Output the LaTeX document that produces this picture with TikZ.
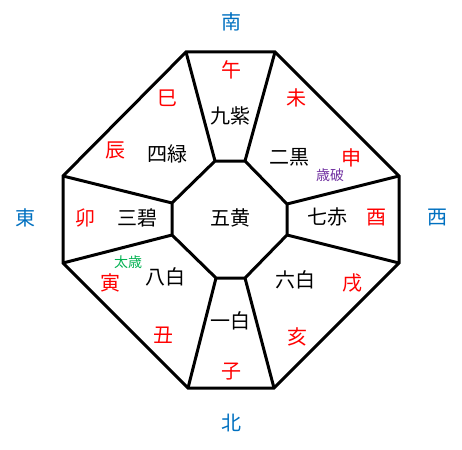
\documentclass[tikz,border=0pt]{standalone}
\usepackage{fontspec}
\newfontfamily\cjk{Noto Sans CJK JP}
\definecolor{dirblue}{RGB}{0,112,192}
\definecolor{zred}{RGB}{255,0,0}
\definecolor{tgreen}{RGB}{0,176,80}
\definecolor{spurple}{RGB}{112,48,160}
\tikzset{
  lab/.style={font=\cjk\fontsize{20}{20}\selectfont, inner sep=0pt},
  dir/.style={lab, text=dirblue},
  zodiac/.style={lab, text=zred},
  star/.style={lab, text=black},
  small/.style={font=\cjk\fontsize{14}{14}\selectfont, inner sep=0pt},
  edge/.style={line width=3pt, line join=miter, black}
}
\begin{document}
\begin{tikzpicture}[x=1pt,y=-1pt]
\useasboundingbox (0,0) rectangle (462,449);
% outer vertices
\coordinate (o1) at (186,52);
\coordinate (o2) at (275,52);
\coordinate (o3) at (399,176);
\coordinate (o4) at (399,263);
\coordinate (o5) at (274,388);
\coordinate (o6) at (188,388);
\coordinate (o7) at (63,263);
\coordinate (o8) at (63,176);
% inner vertices
\coordinate (i1) at (215,161);
\coordinate (i2) at (245,161);
\coordinate (i3) at (287,204);
\coordinate (i4) at (287,235);
\coordinate (i5) at (245,278);
\coordinate (i6) at (216,278);
\coordinate (i7) at (172,235);
\coordinate (i8) at (172,203);
\draw[edge] (o1)--(o2)--(o3)--(o4)--(o5)--(o6)--(o7)--(o8)--cycle;
\draw[edge] (i1)--(i2)--(i3)--(i4)--(i5)--(i6)--(i7)--(i8)--cycle;
\foreach \k in {1,...,8} {\draw[edge] (o\k)--(i\k);}
% directions
\node[dir] (s) at (231,22) {南};
\node[dir] (e) at (25,218) {東};
\node[dir] (w) at (437,218) {西};
\node[dir] (n) at (231,423) {北};
% zodiac
\node[zodiac] (uma) at (231,70) {午};
\node[zodiac] (hitsuji) at (296,98) {未};
\node[zodiac] (saru) at (351,158) {申};
\node[zodiac] (tori) at (376,218) {酉};
\node[zodiac] (inu) at (352,283) {戌};
\node[zodiac] (i) at (297,337) {亥};
\node[zodiac] (ne) at (231,372) {子};
\node[zodiac] (ushi) at (163,335) {丑};
\node[zodiac] (tora) at (110,283) {寅};
\node[zodiac] (u) at (85,218) {卯};
\node[zodiac] (tatsu) at (115,150) {辰};
\node[zodiac] (mi) at (167,98) {巳};
% stars
\node[star] (s9) at (230,116) {九紫};
\node[star] (s2) at (289,157) {二黒};
\node[star] (s7) at (327,217) {七赤};
\node[star] (s6) at (295,280) {六白};
\node[star] (s1) at (230,321) {一白};
\node[star] (s8) at (165,277) {八白};
\node[star] (s3) at (137,218) {三碧};
\node[star] (s4) at (167,154) {四緑};
\node[star] (s5) at (230,218) {五黄};
% markers
\node[small, text=spurple] (saiha) at (330,175) {歳破};
\node[small, text=tgreen] (taisai) at (128,262) {太歳};
\end{tikzpicture}
\end{document}
